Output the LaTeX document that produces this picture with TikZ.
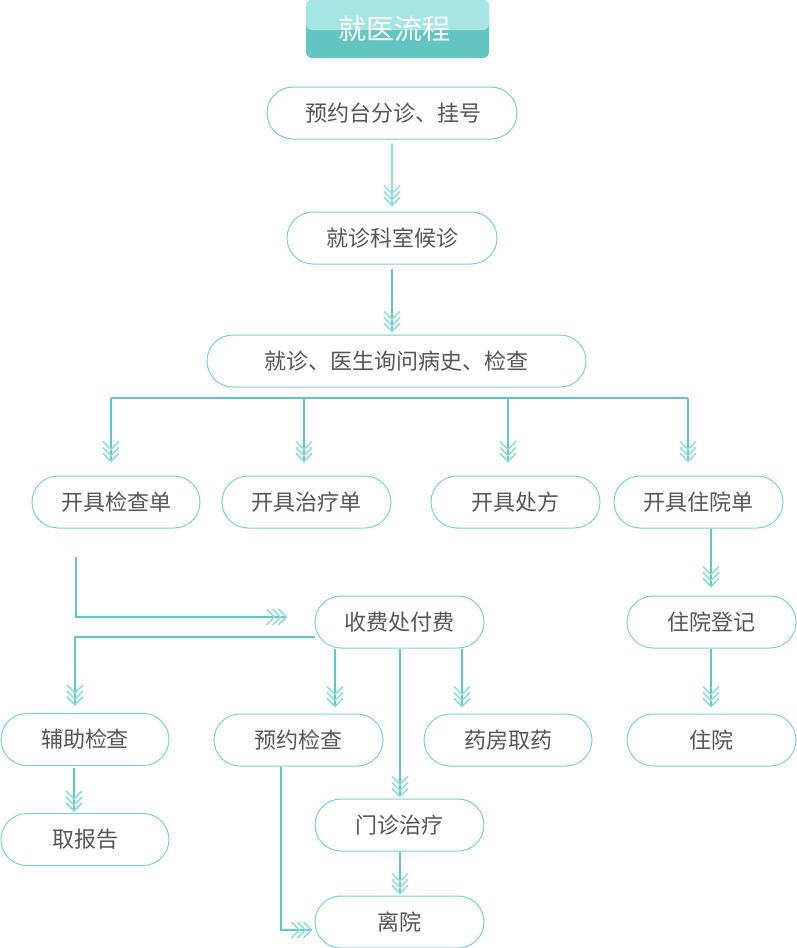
\documentclass[tikz,border=0pt]{standalone}
\usepackage{fontspec}
\setmainfont{Noto Sans CJK SC}
\usetikzlibrary{arrows.meta,shapes.misc}
\definecolor{lnc}{HTML}{62C7C3}
\definecolor{chev}{HTML}{93DCD9}
\definecolor{bdc}{HTML}{7ED0CD}
\definecolor{txc}{HTML}{555555}
\definecolor{ttop}{HTML}{A5E5E3}
\definecolor{tbot}{HTML}{64C6C2}
\tikzset{
  box/.style={draw=bdc, line width=1pt, rounded rectangle, minimum height=52pt,
    inner sep=0pt, font=\fontsize{22}{26}\selectfont, text=txc},
  titlebox/.style={rounded corners=6pt, fill=tbot, minimum width=183pt, minimum height=58pt,
    inner sep=0pt, text=white, font=\fontsize{28}{32}\selectfont,
    path picture={\fill[ttop] (path picture bounding box.north west) rectangle ([yshift=-1pt]path picture bounding box.east);}},
  ln/.style={draw=lnc, line width=1.2pt},
  chv/.style={-{Straight Barb[length=8pt,width=16pt,line width=1.6pt,color=chev,sep=-4pt]
      Straight Barb[length=8pt,width=16pt,line width=1.6pt,color=chev,sep=-4pt]
      Straight Barb[length=8pt,width=16pt,line width=1.6pt,color=chev]}},
}
\begin{document}
\begin{tikzpicture}[x=1pt,y=-1pt]
\useasboundingbox (0,0) rectangle (797,948);
\node[titlebox] (t) at (397.5,29) {\hspace*{-6pt}就医流程};
\node[box, minimum width=250pt] (n1) at (392,113) {\hspace*{2pt}预约台分诊、挂号};
\node[box, minimum width=210pt] (n2) at (392,238) {就诊科室候诊};
\node[box, minimum width=379pt] (n3) at (396.5,361) {就诊、医生询问病史、检查};
\node[box, minimum width=168pt] (a1) at (116,502) {开具检查单};
\node[box, minimum width=169pt] (a2) at (306.5,502) {开具治疗单};
\node[box, minimum width=169pt] (a3) at (515.5,502) {开具处方};
\node[box, minimum width=169pt] (a4) at (698.5,502) {开具住院单};
\node[box, minimum width=169pt] (pay) at (399.5,622) {收费处付费};
\node[box, minimum width=169pt] (reg) at (711.5,622) {住院登记};
\node[box, minimum width=168pt] (b1) at (85,739.5) {辅助检查};
\node[box, minimum width=169pt] (b2) at (298.5,740) {预约检查};
\node[box, minimum width=168pt] (b3) at (508,740) {药房取药};
\node[box, minimum width=169pt] (b4) at (711.5,740) {住院};
\node[box, minimum width=168pt] (c1) at (85,839.5) {取报告};
\node[box, minimum width=169pt] (c2) at (399.5,825) {门诊治疗};
\node[box, minimum width=169pt] (lv) at (399.5,922) {离院};
% main column
\draw[ln,chv,shorten <=4pt,shorten >=5pt] (n1) -- (n2);
\draw[ln,chv,shorten <=4pt,shorten >=2pt] (n2.south) -- (n2.south |- n3.north);
% bus
\coordinate (bA) at (111,398);
\coordinate (bB) at (304,398);
\coordinate (bC) at (508,398);
\coordinate (bD) at (688,398);
\draw[ln] (bA) -- (bD);
\draw[ln,chv,shorten >=13pt] (bA) -- (bA |- a1.north);
\draw[ln,chv,shorten >=13pt] (bB) -- (bB |- a2.north);
\draw[ln,chv,shorten >=13pt] (bC) -- (bC |- a3.north);
\draw[ln,chv,shorten >=13pt] (bD) -- (bD |- a4.north);
% to payment
\coordinate (s1) at (76,557);
\draw[ln,chv,shorten >=27pt] (s1) |- ([yshift=5pt]pay.west);
% from payment
\draw[ln,chv,shorten >=7pt] ([yshift=-15pt]pay.west) -| ([xshift=-10pt]b1.north);
\draw[ln,chv,shorten >=6pt] ([xshift=-64.5pt]pay.south) -- ([xshift=-64.5pt]pay.south |- b2.north);
\draw[ln,chv,shorten >=6pt] ([xshift=62.5pt]pay.south) -- ([xshift=62.5pt]pay.south |- b3.north);
\draw[ln,chv,shorten >=1pt] ([xshift=0.5pt]pay.south) -- ([xshift=0.5pt]pay.south |- c2.north);
% lower
\draw[ln,chv,shorten <=2pt,shorten >=1pt] ([xshift=-11pt]b1.south) -- ([xshift=-11pt]b1.south |- c1.north);
\draw[ln,chv,shorten >=2pt] ([xshift=-17.5pt]b2.south) |- ([yshift=-8pt]lv.west);
\draw[ln,chv,shorten >=1pt] ([xshift=0.5pt]c2.south) -- ([xshift=0.5pt]c2.south |- lv.north);
% inpatient
\draw[ln,chv,shorten >=8pt] ([xshift=-0.5pt]reg.north |- a4.south) -- ([xshift=-0.5pt]reg.north);
\draw[ln,chv,shorten >=6pt] ([xshift=-0.5pt]reg.south) -- ([xshift=-0.5pt]reg.south |- b4.north);
\end{tikzpicture}
\end{document}
